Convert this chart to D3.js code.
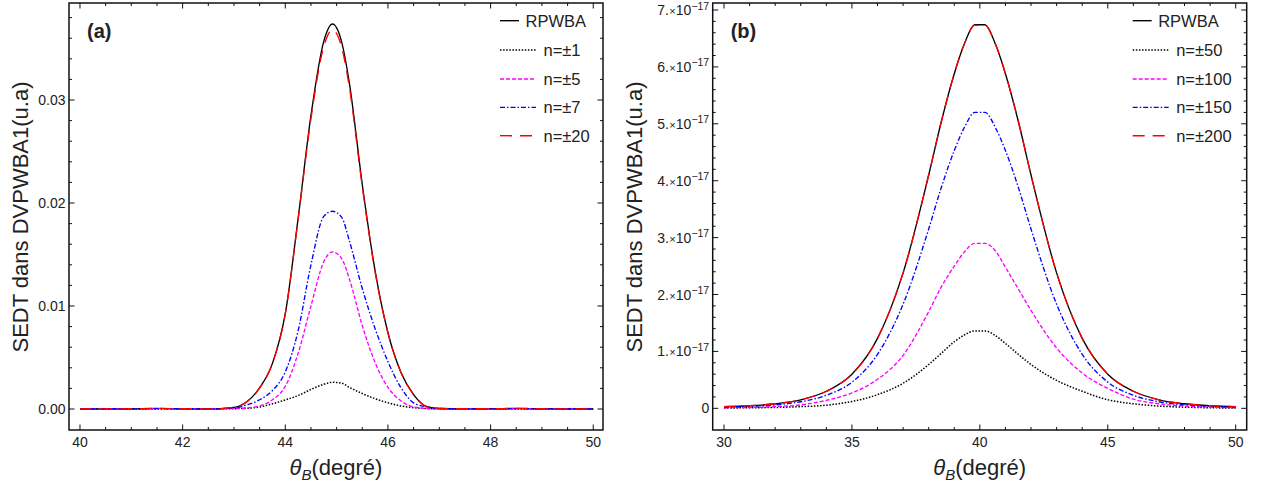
<!DOCTYPE html>
<html><head><meta charset="utf-8">
<script src="https://cdn.jsdelivr.net/npm/d3@7"></script>
<style>
body{margin:0;background:#fff}
svg{display:block}
text{font-family:"Liberation Sans",Arial,Helvetica,sans-serif;fill:#222}
</style>
</head><body>
<svg id="c" width="1268" height="486"></svg>
<script>
// ---------- Panel (a) data ----------
const xA = [40, 41, 41.5, 42, 42.5, 43, 43.25, 43.5, 43.75, 44, 44.25, 44.5, 44.75, 44.92, 45.1, 45.25, 45.5, 45.75, 46, 46.25, 46.5, 46.75, 47, 47.5, 48, 48.5, 49, 50];
const rpwbaA = [0, 0.00002, 0.00006, 0.00002, 0, 0.00015, 0.0007, 0.00205, 0.00443, 0.00925, 0.0185, 0.0285, 0.0357, 0.03738, 0.0356, 0.0316, 0.0218, 0.0134, 0.0074, 0.0036, 0.0014, 0.00025, 0.00005, 0.00002, 0.00002, 0.00006, 0.00002, 0];
const n1A = [0, 0, 0.00001, 0, 0, 0.00003, 0.00007, 0.0002, 0.0005, 0.00088, 0.0013, 0.0019, 0.0024, 0.00259, 0.0025, 0.0021, 0.0015, 0.0010, 0.0006, 0.0003, 0.00013, 0.00005, 0.00002, 0, 0, 0.00001, 0, 0];
const n5A = [0, 0.00001, 0.00003, 0.00001, 0, 0.00005, 0.0001, 0.0003, 0.0009, 0.0022, 0.0054, 0.0100, 0.0143, 0.01525, 0.0146, 0.0126, 0.0081, 0.0045, 0.0021, 0.0008, 0.0002, 0.00005, 0, 0.00001, 0.00001, 0.00003, 0.00001, 0];
const n7A = [0, 0.00001, 0.00004, 0.00001, 0, 0.0001, 0.0004, 0.0009, 0.0018, 0.0036, 0.0076, 0.0140, 0.0187, 0.0192, 0.0186, 0.0163, 0.0117, 0.0078, 0.0046, 0.0021, 0.0006, 0.0002, 0.00005, 0.00001, 0.00001, 0.00004, 0.00001, 0];
const n20A = [0, 0.00002, 0.00006, 0.00002, 0, 0.00015, 0.0007, 0.00205, 0.00443, 0.00925, 0.0184, 0.0282, 0.0352, 0.0368, 0.0351, 0.0312, 0.0216, 0.0133, 0.0074, 0.0036, 0.0014, 0.00025, 0.00005, 0.00002, 0.00002, 0.00006, 0.00002, 0];
const namesA = ["RPWBA", "n=±1", "n=±5", "n=±7", "n=±20"];
const xTicksA = [40, 42, 44, 46, 48, 50];
const yTicksA = [0, 0.01, 0.02, 0.03];

// ---------- Panel (b) data (values in units of 1e-17) ----------
const unitB = 1e-17;
const xB = [30, 31, 32, 33, 34, 35, 36, 37, 38, 38.5, 39, 39.4, 39.8, 40.2, 40.6, 41, 41.5, 42, 43, 44, 45, 46, 47, 48, 49, 50];
const rpwbaB = [0.03, 0.045, 0.08, 0.15, 0.30, 0.60, 1.23, 2.38, 4.10, 5.05, 5.88, 6.41, 6.74, 6.74, 6.41, 5.88, 5.05, 4.10, 2.38, 1.23, 0.60, 0.30, 0.15, 0.08, 0.045, 0.03];
const n50B = [0.005, 0.01, 0.015, 0.03, 0.055, 0.12, 0.24, 0.44, 0.77, 0.97, 1.17, 1.29, 1.36, 1.36, 1.28, 1.14, 0.95, 0.77, 0.49, 0.30, 0.15, 0.08, 0.04, 0.02, 0.01, 0.005];
const n100B = [0.01, 0.015, 0.03, 0.06, 0.14, 0.27, 0.51, 0.93, 1.70, 2.14, 2.50, 2.75, 2.90, 2.90, 2.77, 2.48, 2.10, 1.72, 1.06, 0.62, 0.35, 0.16, 0.08, 0.04, 0.02, 0.01];
const n150B = [0.02, 0.035, 0.06, 0.115, 0.23, 0.46, 0.95, 1.83, 3.15, 3.89, 4.53, 4.94, 5.20, 5.20, 4.94, 4.53, 3.89, 3.15, 1.83, 0.95, 0.46, 0.23, 0.115, 0.06, 0.035, 0.02];
const n200B = [0.03, 0.045, 0.08, 0.15, 0.30, 0.60, 1.23, 2.38, 4.10, 5.05, 5.88, 6.41, 6.73, 6.73, 6.41, 5.88, 5.05, 4.10, 2.38, 1.23, 0.60, 0.30, 0.15, 0.08, 0.045, 0.03];
const namesB = ["RPWBA", "n=±50", "n=±100", "n=±150", "n=±200"];
const xTicksB = [30, 35, 40, 45, 50];
const yTicksB = [0, 1, 2, 3, 4, 5, 6, 7];

// ---------- styles ----------
const styles = [
  {color: "#000000", dash: null, w: 1.35},
  {color: "#000000", dash: "1.5,1.6", w: 1.5},
  {color: "#ff00ff", dash: "4,2", w: 1.35},
  {color: "#0000ff", dash: "5,2,1.5,2", w: 1.35},
  {color: "#ff0000", dash: "12,8", w: 1.35}
];

const svg = d3.select("#c");

function panel(cfg) {
  const g = svg.append("g");
  const x = d3.scaleLinear().domain(cfg.xDom).range([cfg.L, cfg.R]);
  const y = d3.scaleLinear().domain(cfg.yDom).range([cfg.B, cfg.T]);

  // curves
  const line = d3.line().x(d => x(d[0])).y(d => y(d[1])).curve(d3.curveMonotoneX);
  cfg.series.forEach((vals, i) => {
    const pts = cfg.xs.map((xv, j) => [xv, vals[j] * cfg.unit]);
    g.append("path").attr("d", line(pts)).attr("fill", "none")
      .attr("stroke", styles[i].color).attr("stroke-width", styles[i].w)
      .attr("stroke-dasharray", styles[i].dash);
  });

  // frame
  g.append("rect").attr("x", cfg.L).attr("y", cfg.T)
    .attr("width", cfg.R - cfg.L).attr("height", cfg.B - cfg.T)
    .attr("fill", "none").attr("stroke", "#111").attr("stroke-width", 1.5);

  const maj = 5.5, mnr = 3;
  const tk = g.append("g").attr("stroke", "#111").attr("stroke-width", 1);
  const xMinor = d3.range(cfg.xMinor[0], cfg.xMinor[1] + 1e-9, cfg.xMinor[2]);
  const yMinor = d3.range(cfg.yMinor[0], cfg.yMinor[1] + 1e-9, cfg.yMinor[2]);
  xMinor.forEach(v => {
    const isMaj = cfg.xTicks.some(t => Math.abs(t - v) < 1e-9);
    const l = isMaj ? maj : mnr, px = x(v);
    tk.append("line").attr("x1", px).attr("x2", px).attr("y1", cfg.B).attr("y2", cfg.B - l);
    tk.append("line").attr("x1", px).attr("x2", px).attr("y1", cfg.T).attr("y2", cfg.T + l);
  });
  yMinor.forEach(v => {
    const vv = v * cfg.unit;
    const isMaj = cfg.yTicks.some(t => Math.abs(t - v) < 1e-9);
    const l = isMaj ? maj : mnr, py = y(vv);
    tk.append("line").attr("y1", py).attr("y2", py).attr("x1", cfg.L).attr("x2", cfg.L + l);
    tk.append("line").attr("y1", py).attr("y2", py).attr("x1", cfg.R).attr("x2", cfg.R - l);
  });

  // x tick labels
  cfg.xTicks.forEach(v => {
    g.append("text").attr("x", x(v)).attr("y", 447).attr("text-anchor", "middle")
      .attr("font-size", 14).text(v);
  });
  // y tick labels
  cfg.yTicks.forEach(v => {
    const t = g.append("text").attr("x", cfg.L - 3.5).attr("y", y(v * cfg.unit) + 5)
      .attr("text-anchor", "end").attr("font-size", 14);
    cfg.yFmt(t, v);
  });

  // axis labels
  const xl = g.append("text").attr("x", (cfg.L + cfg.R) / 2).attr("y", 475)
    .attr("text-anchor", "middle").attr("font-size", 22);
  xl.append("tspan").attr("font-style", "italic").text("θ");
  xl.append("tspan").attr("font-style", "italic").attr("font-size", 15).attr("dy", 5).text("B");
  xl.append("tspan").attr("dy", -5).text("(degré)");

  g.append("text").attr("transform", `translate(${cfg.ylabX},217) rotate(-90)`)
    .attr("text-anchor", "middle").attr("font-size", 22).text("SEDT dans DVPWBA1(u.a)");

  // panel tag
  g.append("text").attr("x", cfg.L + 18).attr("y", 37.5).attr("font-size", 20)
    .attr("font-weight", "bold").text(cfg.tag);

  // legend
  const rows = [20.7, 50, 79, 107.3, 135.7];
  cfg.names.forEach((nm, i) => {
    const x1 = cfg.legX, x2 = i === 0 ? cfg.legX + 19 : cfg.legX + 36;
    g.append("line").attr("x1", x1).attr("x2", x2).attr("y1", rows[i]).attr("y2", rows[i])
      .attr("stroke", styles[i].color).attr("stroke-width", styles[i].w)
      .attr("stroke-dasharray", styles[i].dash);
    g.append("text").attr("x", i === 0 ? cfg.legX + 25.5 : cfg.legX + 43.5)
      .attr("y", rows[i] + 5.8).attr("font-size", 16.5).text(nm);
  });
}

panel({
  L: 69, R: 603, T: 3, B: 430,
  xDom: [39.786, 50.19], yDom: [-0.00204, 0.03942], unit: 1,
  xs: xA, series: [rpwbaA, n1A, n5A, n7A, n20A], names: namesA,
  xTicks: xTicksA, xMinor: [40, 50, 0.5],
  yTicks: yTicksA, yMinor: [0, 0.038, 0.002],
  yFmt: (t, v) => t.text(d3.format(".2f")(v)),
  ylabX: 28, tag: "(a)", legX: 500
});

panel({
  L: 712.7, R: 1246.7, T: 3, B: 430,
  xDom: [29.558, 50.43], yDom: [-0.381 * unitB, 7.123 * unitB], unit: unitB,
  xs: xB, series: [rpwbaB, n50B, n100B, n150B, n200B], names: namesB,
  xTicks: xTicksB, xMinor: [30, 50, 1],
  yTicks: yTicksB, yMinor: [0, 7, 0.2],
  yFmt: (t, v) => {
    if (v === 0) { t.text("0"); return; }
    t.append("tspan").text(v + ".");
    t.append("tspan").attr("font-size", 11).attr("dx", 0.5).text("×");
    t.append("tspan").text("10");
    t.append("tspan").attr("font-size", 10.5).attr("dy", -5.5).text("−17");
  },
  ylabX: 641.5, tag: "(b)", legX: 1132.7
});
</script>
</body></html>
